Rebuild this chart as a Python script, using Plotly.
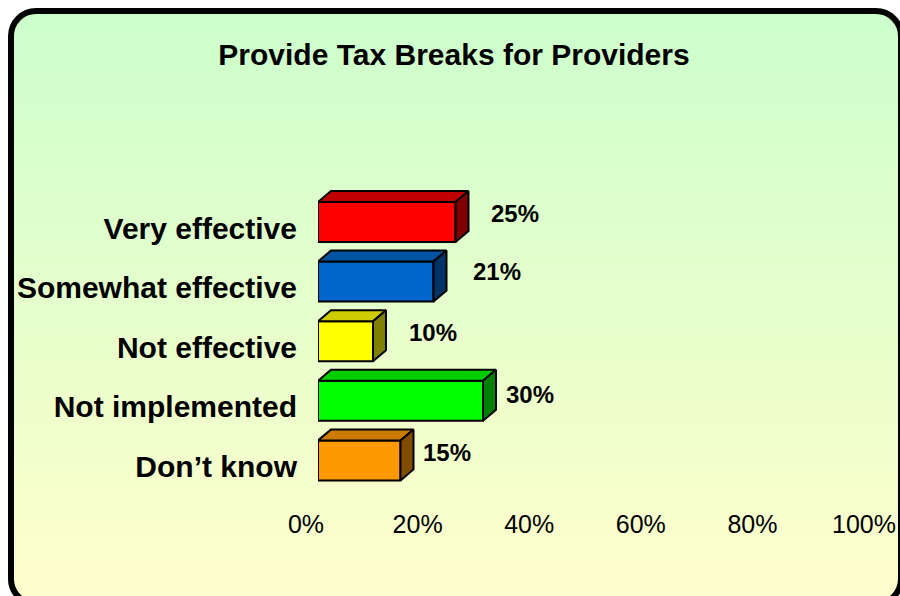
import math
import plotly.graph_objects as go

# ---------------- data ----------------
categories = ["Very effective", "Somewhat effective", "Not effective", "Not implemented", "Don\u2019t know"]
values = [25, 21, 10, 30, 15]
value_labels = ["25%", "21%", "10%", "30%", "15%"]
x_ticks = [0, 20, 40, 60, 80, 100]
x_ticklabels = ["0%", "20%", "40%", "60%", "80%", "100%"]

# ---------------- styles ----------------
front_colors = ["#FF0000", "#0066CC", "#FFFF00", "#00FF00", "#FF9900"]
top_colors = ["#C00000", "#0052A3", "#CCCC00", "#00CC00", "#CC7A00"]
side_colors = ["#800000", "#003366", "#808000", "#008000", "#804C00"]
label_xshift = [33, 37, 34, 21, 20]
label_yshift = [9, 10, 9, 6, 8]

FONT = "Liberation Sans, Arial, sans-serif"
W, H = 900, 596

# pixel geometry of the plotting area
X0_PX, PX_PER_PCT = 318, 5.5
ROW0_PX, ROW_PX = 222, 59.6
TOP_PX, BOT_PX = 150, 507
y_top_val = (TOP_PX - ROW0_PX) / ROW_PX
y_bot_val = (BOT_PX - ROW0_PX) / ROW_PX

BAR_W = 40 / ROW_PX          # bar thickness in y units
DX = 13 / PX_PER_PCT         # 3D depth in x units
DY = 11 / ROW_PX             # 3D depth in y units
TICK_OFF = 6 / ROW_PX        # category labels sit slightly below bar faces

fig = go.Figure()

n = len(categories)
ypos = list(range(n))

# 3D top and side faces
for i, v in enumerate(values):
    yt = ypos[i] - BAR_W / 2
    yb = ypos[i] + BAR_W / 2
    fig.add_trace(go.Scatter(
        x=[0, v, v + DX, DX, 0], y=[yt, yt, yt - DY, yt - DY, yt],
        fill="toself", fillcolor=top_colors[i], mode="lines",
        line=dict(color="black", width=2), hoverinfo="skip", showlegend=False))
    fig.add_trace(go.Scatter(
        x=[v, v + DX, v + DX, v, v], y=[yt, yt - DY, yb - DY, yb, yt],
        fill="toself", fillcolor=side_colors[i], mode="lines",
        line=dict(color="black", width=2), hoverinfo="skip", showlegend=False))

# front faces
fig.add_trace(go.Bar(
    x=values, y=ypos, orientation="h", width=BAR_W,
    marker=dict(color=front_colors, line=dict(color="black", width=2)),
    hoverinfo="skip", showlegend=False))

# invisible trace to carry the percentage axis
fig.add_trace(go.Scatter(x=[0, 100], y=[y_bot_val, y_bot_val], xaxis="x2", mode="markers",
                         marker=dict(opacity=0), hoverinfo="skip", showlegend=False))

# value labels
annotations = []
for i, v in enumerate(values):
    annotations.append(dict(
        x=v + DX, y=ypos[i], xref="x", yref="y", text=value_labels[i],
        showarrow=False, xanchor="left", yanchor="middle",
        xshift=label_xshift[i] - 13, yshift=label_yshift[i],
        font=dict(family=FONT, size=24, color="black", weight="bold")))

# background gradient (clipped to rounded frame) + frame
shapes = []
BL, BR, BT, BB, R = 11, 901, 11, 604, 25
c_top = (204, 255, 204)
c_bot = (255, 255, 204)
step = 3
py = BT
while py < BB:
    ym = py + step / 2
    dx = 0
    if ym < BT + R:
        d = (BT + R) - ym
        dx = R - math.sqrt(max(R * R - d * d, 0))
    elif ym > BB - R:
        d = ym - (BB - R)
        dx = R - math.sqrt(max(R * R - d * d, 0))
    t = (ym - BT) / (BB - BT)
    col = "rgb(%d,%d,%d)" % tuple(round(a + (b - a) * t) for a, b in zip(c_top, c_bot))
    shapes.append(dict(type="rect", xref="paper", yref="paper", layer="below",
                       x0=(BL + dx) / W, x1=(BR - dx) / W,
                       y0=1 - (py + step + 0.8) / H, y1=1 - py / H,
                       fillcolor=col, line=dict(width=0)))
    py += step

def P(x, y):
    return "%.5f,%.5f" % (x / W, 1 - y / H)

k = 0.5523 * R
path = ("M " + P(BL + R, BT) + " L " + P(BR - R, BT) +
        " C " + P(BR - R + k, BT) + " " + P(BR, BT + R - k) + " " + P(BR, BT + R) +
        " L " + P(BR, BB - R) +
        " C " + P(BR, BB - R + k) + " " + P(BR - R + k, BB) + " " + P(BR - R, BB) +
        " L " + P(BL + R, BB) +
        " C " + P(BL + R - k, BB) + " " + P(BL, BB - R + k) + " " + P(BL, BB - R) +
        " L " + P(BL, BT + R) +
        " C " + P(BL, BT + R - k) + " " + P(BL + R - k, BT) + " " + P(BL + R, BT) + " Z")
shapes.append(dict(type="path", xref="paper", yref="paper", path=path, layer="below",
                   line=dict(color="black", width=6), fillcolor="rgba(0,0,0,0)"))

fig.update_layout(
    width=W, height=H, autosize=False,
    margin=dict(l=0, r=0, t=0, b=0, pad=0, autoexpand=False),
    paper_bgcolor="white", plot_bgcolor="rgba(0,0,0,0)",
    bargap=0,
    title=dict(text="Provide Tax Breaks for Providers", x=454 / W, y=1 - 54 / H,
               xanchor="center", yanchor="middle", xref="paper", yref="paper",
               automargin=False,
               font=dict(family=FONT, size=30, color="black", weight="bold")),
    xaxis=dict(domain=[X0_PX / W, (X0_PX + 100 * PX_PER_PCT) / W], range=[0, 100],
               showgrid=False, zeroline=False, showline=False, showticklabels=False,
               ticks="", anchor="y", automargin=False),
    xaxis2=dict(domain=[306 / W, 864 / W], range=[0, 100], anchor="y",
                tickvals=x_ticks, ticktext=x_ticklabels, ticks="",
                showgrid=False, zeroline=False, showline=False, automargin=False,
                tickfont=dict(family=FONT, size=25, color="black")),
    yaxis=dict(domain=[1 - BOT_PX / H, 1 - TOP_PX / H], range=[y_bot_val, y_top_val],
               tickvals=[p + TICK_OFF for p in ypos], ticktext=categories, ticks="",
               showgrid=False, zeroline=False, showline=False, anchor="x",
               ticklabelstandoff=20, automargin=False,
               tickfont=dict(family=FONT, size=30, color="black", weight="bold")),
    shapes=shapes,
    annotations=annotations,
)

fig.write_html("out.html",
               config={"displayModeBar": False, "staticPlot": True},
               post_script="document.body.style.margin='0';document.body.style.overflow='hidden';")
